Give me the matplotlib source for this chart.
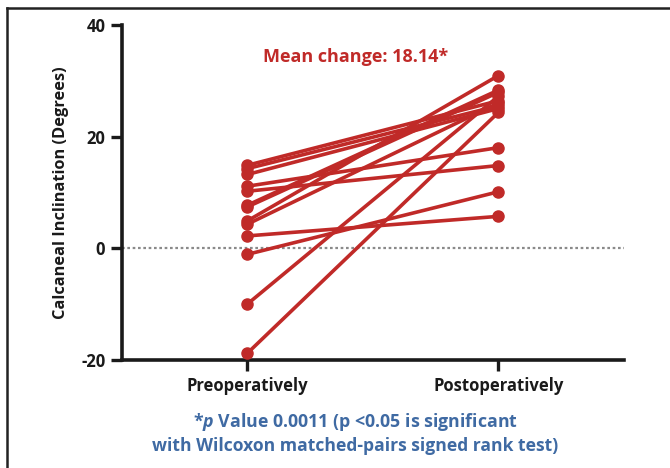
"""Calcaneal inclination before/after surgery, paired per patient."""
import matplotlib
matplotlib.use("Agg")
import matplotlib.pyplot as plt
from matplotlib.lines import Line2D

plt.rcParams["font.family"] = ["Open Sans", "DejaVu Sans"]
plt.rcParams["mathtext.fontset"] = "custom"
plt.rcParams["mathtext.it"] = "Open Sans:italic:bold"
plt.rcParams["mathtext.rm"] = "Open Sans:bold"

GROUPS = ["Preoperatively", "Postoperatively"]
# one entry per patient, paired
PRE = [-18.8, -10.0, -1.1, 2.2, 11.1, 10.2, 14.85, 14.25, 13.2, 7.7, 7.4, 4.9, 4.3]
POST = [24.3, 27.2, 10.1, 5.7, 18.0, 14.8, 26.4, 25.5, 25.0, 28.3, 27.9, 30.9, 26.0]
YTICKS = [-20, 0, 20, 40]
MEAN_CHANGE = "Mean change: 18.14*"

RED = "#c02a28"
BLUE = "#3f6aa3"
INK = "#1a1a1a"

fig = plt.figure(figsize=(6.7, 4.68), dpi=100)
ax = fig.add_axes([0.182, 0.231, 0.749, 0.716])

for a, b in zip(PRE, POST):
    ax.plot([0, 1], [a, b], color=RED, lw=2.6, marker="o", ms=8, solid_capstyle="round", zorder=3)

ax.axhline(0, color="#8a8a8a", lw=1.6, ls=(0, (1.2, 1.2)), zorder=1)

ax.set_xlim(-0.5, 1.5)
ax.set_ylim(-20, 40)
ax.set_xticks([0, 1])
ax.set_xticklabels(GROUPS, fontsize=12, fontweight="bold", color=INK)
ax.set_yticks(YTICKS)
ax.set_yticklabels([str(t) for t in YTICKS], fontsize=12, fontweight="bold", color=INK)
ax.tick_params(direction="out", length=8, width=2.4, color=INK, pad=4)
for s in ["top", "right"]:
    ax.spines[s].set_visible(False)
for s in ["left", "bottom"]:
    ax.spines[s].set_linewidth(2.6)
    ax.spines[s].set_color(INK)
ax.set_ylabel("Calcaneal Inclination (Degrees)", fontsize=11.8, fontweight="bold",
              color=INK, labelpad=9)

ax.text(0.43, 34.3, MEAN_CHANGE, color=RED, fontsize=13, fontweight="bold",
        ha="center", va="center")

fig.text(0.53, 1 - 422 / 468, r"*$\mathit{p}$ Value 0.0011 (p <0.05 is significant",
         color=BLUE, fontsize=12.8, fontweight="bold", ha="center", va="center")
fig.text(0.53, 1 - 446 / 468, "with Wilcoxon matched-pairs signed rank test)",
         color=BLUE, fontsize=12.6, fontweight="bold", ha="center", va="center")

# outer frame (left and top edges visible)
fx, fy = 7 / 670, 1 - 8 / 468
fig.add_artist(Line2D([fx, fx], [-0.1, fy], transform=fig.transFigure, color="#222222", lw=1.8))
fig.add_artist(Line2D([fx, 1.1], [fy, fy], transform=fig.transFigure, color="#222222", lw=1.8))

fig.savefig("out.png", dpi=100)
